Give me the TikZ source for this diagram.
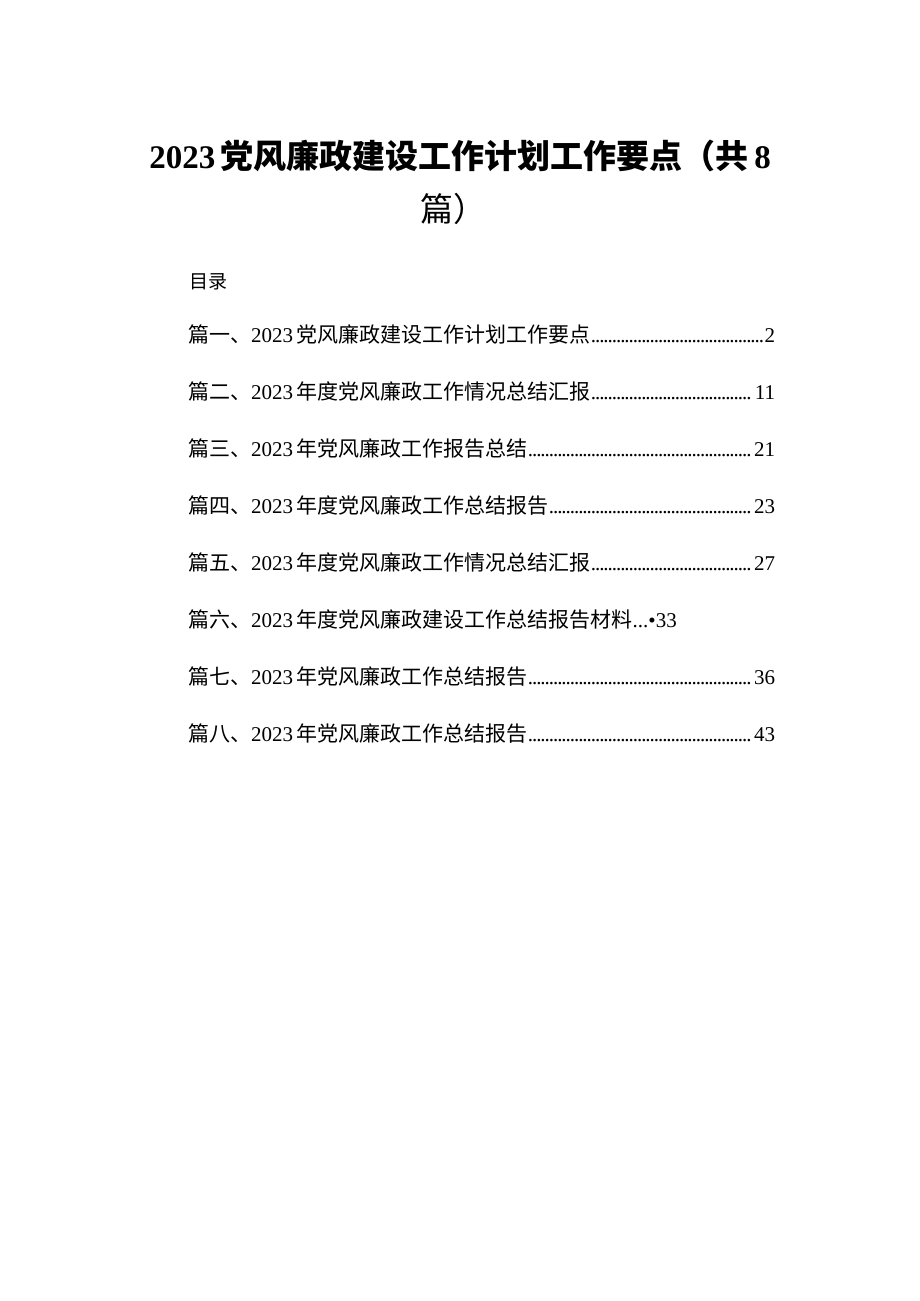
\documentclass[tikz,border=0pt]{standalone}
\usepackage{fontspec}
\setmainfont{Liberation Serif}
\newfontfamily\cjk{Noto Sans CJK SC}
\newcommand\dotlead{\leaders\hbox to 4.2pt{\hss.\hss}\hfill}
\begin{document}
\begin{tikzpicture}[x=1pt,y=-1pt,
  toc/.style={anchor=west,inner sep=0pt,text width=587pt,font=\fontsize{21}{24}\selectfont}]
\useasboundingbox[fill=white] (0,0) rectangle (920,1301);
\node[inner sep=0pt,font=\fontsize{33}{36}\selectfont\bfseries] (t1) at (460,156) {2023\,{\cjk 党风廉政建设工作计划工作要点（共}\,8};
\node[inner sep=0pt,font=\fontsize{33}{36}\selectfont\cjk] (t2) at (453,209) {篇）};
\node[anchor=west,inner sep=0pt,font=\fontsize{19}{22}\selectfont\cjk] (ml) at (189,282) {目录};
\node[toc] (l1) at (188,335) {{\cjk 篇一、}2023\,{\cjk 党风廉政建设工作计划工作要点}\dotlead 2};
\node[toc] (l2) at (188,392) {{\cjk 篇二、}2023\,{\cjk 年度党风廉政工作情况总结汇报}\dotlead 11};
\node[toc] (l3) at (188,449) {{\cjk 篇三、}2023\,{\cjk 年党风廉政工作报告总结}\dotlead 21};
\node[toc] (l4) at (188,506) {{\cjk 篇四、}2023\,{\cjk 年度党风廉政工作总结报告}\dotlead 23};
\node[toc] (l5) at (188,563) {{\cjk 篇五、}2023\,{\cjk 年度党风廉政工作情况总结汇报}\dotlead 27};
\node[toc] (l6) at (188,620) {{\cjk 篇六、}2023\,{\cjk 年度党风廉政建设工作总结报告材料}...•33};
\node[toc] (l7) at (188,677) {{\cjk 篇七、}2023\,{\cjk 年党风廉政工作总结报告}\dotlead 36};
\node[toc] (l8) at (188,734) {{\cjk 篇八、}2023\,{\cjk 年党风廉政工作总结报告}\dotlead 43};
\end{tikzpicture}
\end{document}
